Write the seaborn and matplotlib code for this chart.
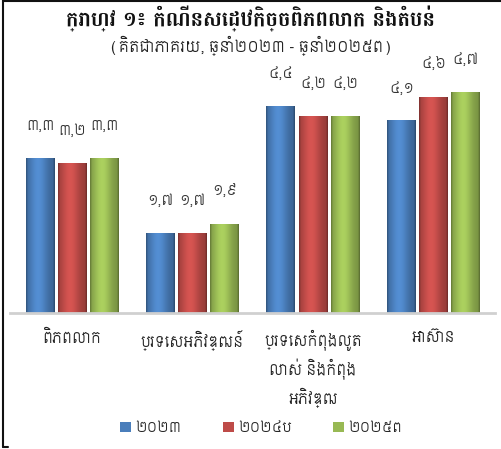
import matplotlib
matplotlib.use("Agg")
import matplotlib.pyplot as plt
import seaborn as sns
import pandas as pd
import numpy as np
from matplotlib.lines import Line2D
from matplotlib.patches import Patch
from matplotlib.colors import to_rgb

categories = ["ពិភពលោក", "ប្រទេសអភិវឌ្ឍន៍", "ប្រទេសកំពុងលូត\nលាស់ និងកំពុង\nអភិវឌ្ឍ", "អាស៊ាន"]
series = ["២០២៣", "២០២៤ប", "២០២៥ព"]
values_2023 = [3.3, 1.7, 4.4, 4.1]
values_2024 = [3.2, 1.7, 4.2, 4.6]
values_2025 = [3.3, 1.9, 4.2, 4.7]
colors = ["#4A7EBB", "#BE4B48", "#98B954"]
title = "ក្រាហ្វ ១៖ កំណើនសេដ្ឋកិច្ចពិភពលោក និងតំបន់"
subtitle = "(គិតជាភាគរយ, ឆ្នាំ២០២៣ - ឆ្នាំ២០២៥ព)"

KH_DIGITS = str.maketrans("0123456789.", "០១២៣៤៥៦៧៨៩,")

def kh(v):
    return ("%.1f" % v).translate(KH_DIGITS)

rows = []
for s, vals in zip(series, [values_2023, values_2024, values_2025]):
    for c, v in zip(categories, vals):
        rows.append({"cat": c, "series": s, "val": v})
df = pd.DataFrame(rows)

sns.set_theme(style="white")
plt.rcParams['font.family'] = ['Siemreap', 'DejaVu Sans']

fig = plt.figure(figsize=(5.02, 4.49), dpi=100)
ax = fig.add_axes([0.02, 0.303, 0.966, 0.523])
sns.barplot(data=df, x="cat", y="val", hue="series", palette=colors,
            order=categories, hue_order=series, width=0.8, gap=0.1,
            ax=ax, legend=False, saturation=1)
ax.set_ylim(0, 5)
ax.set_xlim(-0.515, 3.51)

# horizontal shading profile for a rounded 3D look
prof_x = np.linspace(0, 1, 64)
shade = 0.78 + 0.35 * np.exp(-((prof_x - 0.42) / 0.33) ** 2)
shade[:3] = 0.7
shade[-3:] = 0.62
for cont, col in zip(ax.containers, colors):
    base = np.array(to_rgb(col))
    img = np.clip(base[None, None, :] * shade[None, :, None], 0, 1)
    for bar in cont:
        bar.set_edgecolor("none")
        x0, w, h = bar.get_x(), bar.get_width(), bar.get_height()
        im = ax.imshow(img, extent=[x0, x0 + w, 0, h], aspect="auto",
                       interpolation="bilinear", zorder=bar.get_zorder() + 0.1)
        im.set_clip_path(bar)
    ax.bar_label(cont, labels=[kh(b.get_height()) for b in cont], padding=18,
                 fontsize=10, color="#333333", family=['Siemreap', 'DejaVu Sans'])
ax.set_ylim(0, 5)
ax.set_xlim(-0.515, 3.51)
ax.set_xlabel("")
ax.set_ylabel("")
ax.set_yticks([])
ax.tick_params(axis="x", length=0, pad=12, labelsize=10.5, colors="#222222")
for sp in ["top", "right", "left"]:
    ax.spines[sp].set_visible(False)
ax.spines["bottom"].set_color("#D0D0D0")
ax.spines["bottom"].set_linewidth(2)
for lbl in ax.get_xticklabels():
    lbl.set_verticalalignment("top")
    lbl.set_linespacing(1.5)

fig.text(0.5, 0.958, title, ha="center", va="center", fontsize=15,
         fontweight="bold", family=['Battambang', 'DejaVu Sans'], color="#111111")
fig.text(0.5, 0.898, subtitle, ha="center", va="center", fontsize=11,
         family=['Siemreap', 'DejaVu Sans'], color="#222222")

handles = [Patch(facecolor=c, edgecolor="none") for c in colors]
fig.legend(handles, series, loc="center", bbox_to_anchor=(0.52, 0.047), ncol=3,
           frameon=False, fontsize=10, handlelength=0.8, handleheight=0.8,
           columnspacing=3.0, handletextpad=0.3)

fig.add_artist(Line2D([0.005, 0.005], [0.004, 1.0], transform=fig.transFigure,
                      color="#111111", lw=1.5))
fig.add_artist(Line2D([0.005, 1.0], [0.998, 0.998], transform=fig.transFigure,
                      color="#111111", lw=1.5))
fig.add_artist(Line2D([0.005, 0.015], [0.004, 0.004], transform=fig.transFigure,
                      color="#111111", lw=1.5))

fig.savefig("out.png", dpi=100)
